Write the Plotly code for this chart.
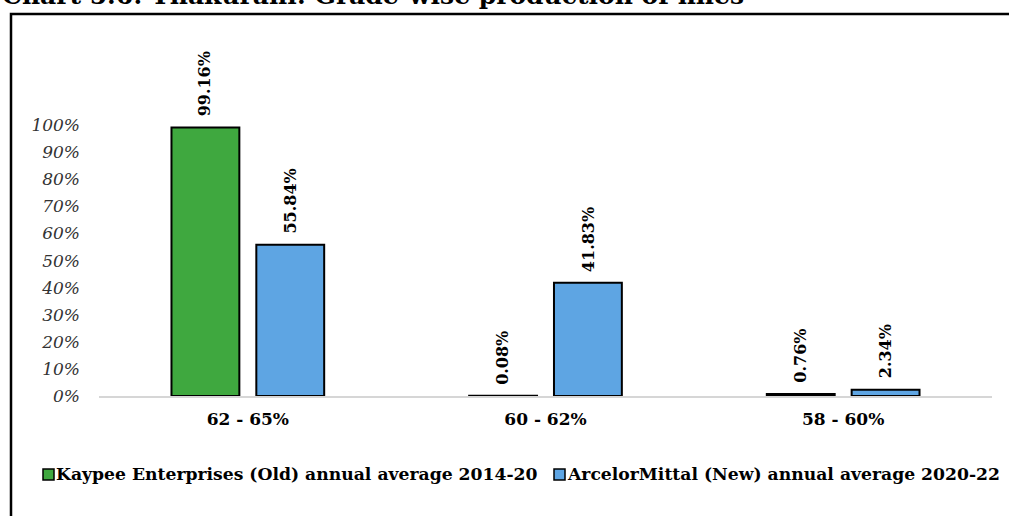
import plotly.graph_objects as go

# Grade-wise production of fines at Thakurani
categories = ["62 - 65%", "60 - 62%", "58 - 60%"]
kaypee_old = [99.16, 0.08, 0.76]
arcelor_new = [55.84, 41.83, 2.34]
series_names = [
    "Kaypee Enterprises (Old) annual average 2014-20",
    "ArcelorMittal (New) annual average 2020-22",
]
y_ticks = list(range(0, 101, 10))
y_tick_text = [f"{v}%" for v in y_ticks]
title_text = "Chart 5.6: Thakurani: Grade-wise production of fines"

W, H = 1009, 516
ML, MR, MT, MB = 99, 17, 71, 120
PW, PH = W - ML - MR, H - MT - MB
Y_MAX = 120

GREEN = "#3fa83f"
BLUE = "#5ea5e3"
SERIF = "DejaVu Serif"


def px_x(px):
    return (px - ML) / PW


def px_y(py):
    return (H - MB - py) / PH


fig = go.Figure()
for name, vals, color in [(series_names[0], kaypee_old, GREEN),
                          (series_names[1], arcelor_new, BLUE)]:
    fig.add_trace(go.Bar(
        x=categories, y=vals, name=name,
        marker=dict(color=color, line=dict(color="black", width=2)),
        showlegend=False,
    ))

# rotated value labels above each bar
slot = PW / 3 * (1 - 0.43) / 2
for vals, shift in [(kaypee_old, -slot / 2), (arcelor_new, slot / 2)]:
    for c, v in zip(categories, vals):
        fig.add_annotation(
            x=c, y=v, xref="x", yref="y", text=f"<b>{v:.2f}%</b>",
            textangle=-90, showarrow=False, xanchor="center", yanchor="bottom",
            xshift=shift, yshift=9,
            font=dict(family=SERIF, size=16, color="black"),
        )

# legend drawn as swatches and labels along the bottom
legend_items = [(43, 54, GREEN, series_names[0]), (554, 565, BLUE, series_names[1])]
for x0, tx, color, label in legend_items:
    fig.add_shape(type="rect", xref="paper", yref="paper",
                  x0=px_x(x0), x1=px_x(x0 + 11), y0=px_y(480), y1=px_y(469),
                  fillcolor=color, line=dict(color="black", width=1.5))
    fig.add_annotation(x=px_x(tx), y=px_y(474), xref="paper", yref="paper",
                       text=f"<b>{label}</b>", showarrow=False,
                       xanchor="left", yanchor="middle",
                       font=dict(family=SERIF, size=17.2, color="black"))

# outer frame
fig.add_shape(type="rect", xref="paper", yref="paper",
              x0=px_x(11), x1=px_x(1020), y0=px_y(14), y1=px_y(530),
              line=dict(color="black", width=2.5), fillcolor="rgba(0,0,0,0)")

# title
fig.add_annotation(x=px_x(0), y=px_y(-5), xref="paper", yref="paper",
                   text=f"<b>{title_text}</b>", showarrow=False,
                   xanchor="left", yanchor="middle",
                   font=dict(family=SERIF, size=25, color="black"))

fig.update_layout(
    width=W, height=H,
    margin=dict(l=ML, r=MR, t=MT, b=MB),
    paper_bgcolor="white", plot_bgcolor="white",
    barmode="group", bargap=0.43, bargroupgap=0.2,
    showlegend=False,
    xaxis=dict(
        showline=True, linecolor="#d6d6d6", linewidth=1.5,
        showgrid=False, ticks="", ticklabelstandoff=7,
        tickfont=dict(family=SERIF, size=17, color="black", weight="bold"),
    ),
    yaxis=dict(
        range=[0, Y_MAX], tickvals=y_ticks, ticktext=y_tick_text,
        showgrid=False, zeroline=False, showline=False, ticks="",
        ticklabelstandoff=18,
        tickfont=dict(family=SERIF, size=17, color="#333333", style="italic"),
    ),
)

fig.write_html("out.html")
